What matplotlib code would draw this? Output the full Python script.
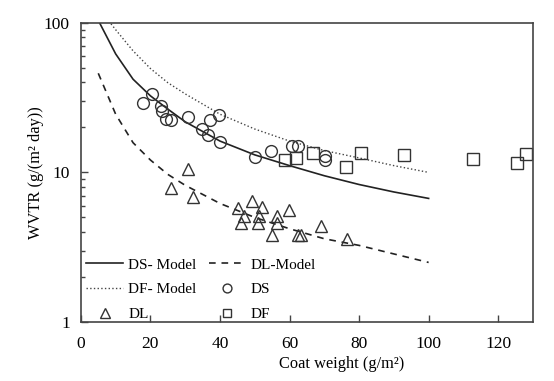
import matplotlib
matplotlib.use("Agg")
import matplotlib.pyplot as plt
from matplotlib.ticker import LogLocator, NullFormatter, FixedLocator

# Model curves
model_x = [5, 10, 15, 20, 25, 30, 40, 50, 60, 70, 80, 90, 100]
ds_model = [104, 62, 42, 32.5, 26.5, 21.8, 16.2, 13.1, 11.1, 9.5, 8.3, 7.4, 6.7]
dl_model = [46, 24.5, 15.8, 12.1, 9.7, 8.2, 6.2, 5.0, 4.2, 3.6, 3.25, 2.85, 2.5]
dfm_x = [8, 10, 15, 20, 25, 30, 40, 50, 60, 70, 80, 90, 100]
df_model = [103, 90, 65, 49.5, 39.8, 33.5, 24.5, 19.5, 16.2, 14.0, 12.5, 11.1, 10.0]

# Measured data
ds_x = [17.9, 20.5, 22.9, 23.3, 24.5, 25.9, 30.7, 34.7, 36.6, 37.0, 39.6, 40.1,
        50.0, 54.6, 60.7, 62.3, 70.1, 70.1]
ds_y = [28.9, 33.6, 27.8, 25.6, 22.6, 22.4, 23.5, 19.4, 17.8, 22.4, 24.3, 15.9,
        12.6, 13.8, 15.1, 15.1, 12.9, 12.1]
df_x = [58.7, 61.8, 66.8, 76.3, 80.6, 93.0, 112.9, 125.3, 128.0]
df_y = [12.1, 12.4, 13.5, 10.9, 13.4, 13.1, 12.3, 11.6, 13.3]
dl_x = [30.7, 25.8, 32.2, 45.1, 49.1, 52.1, 46.8, 46.0, 51.1, 51.0, 56.3, 56.5,
        54.9, 59.9, 62.3, 63.2, 69.0, 76.6]
dl_y = [10.5, 7.9, 6.9, 5.8, 6.4, 5.9, 5.1, 4.56, 5.1, 4.6, 5.1, 4.6,
        3.82, 5.6, 3.79, 3.79, 4.35, 3.58]

plt.rcParams['font.family'] = ['Liberation Serif', 'DejaVu Serif']

fig = plt.figure(figsize=(5.54, 3.81), dpi=100)
ax = fig.add_axes([0.146, 0.155, 0.816, 0.785])

mk = dict(linestyle='none', markerfacecolor='none', markeredgecolor='#333333',
          markeredgewidth=1.0)
l1, = ax.plot(model_x, ds_model, '-', color='#222222', lw=1.2, label='DS- Model')
l2, = ax.plot(model_x, dl_model, '--', color='#222222', lw=1.2, label='DL-Model',
              dashes=(4, 3.5))
l3, = ax.plot(dfm_x, df_model, ':', color='#444444', lw=1.0, label='DF- Model')
p1, = ax.plot(ds_x, ds_y, marker='o', markersize=8.5, label='DS', **mk)
p2, = ax.plot(dl_x, dl_y, marker='^', markersize=9, label='DL', **mk)
p3, = ax.plot(df_x, df_y, marker='s', markersize=8, label='DF', **mk)

ax.set_yscale('log')
ax.set_xlim(0, 130)
ax.set_ylim(1, 100)
ax.xaxis.set_major_locator(FixedLocator([0, 20, 40, 60, 80, 100, 120]))
ax.yaxis.set_major_locator(FixedLocator([1, 10, 100]))
ax.yaxis.set_major_formatter(matplotlib.ticker.FuncFormatter(lambda v, p: f"{v:g}"))
ax.yaxis.set_minor_locator(LogLocator(base=10, subs=range(2, 10)))
ax.yaxis.set_minor_formatter(NullFormatter())
ax.tick_params(axis='both', which='major', direction='in', length=5, width=1,
               labelsize=12.5, color='#444444', pad=8)
ax.tick_params(axis='y', which='minor', direction='in', length=3, width=1,
               color='#444444')
ax.tick_params(axis='x', pad=10)
for s in ax.spines.values():
    s.set_color('#444444')
    s.set_linewidth(1.2)

ax.set_xlabel('Coat weight (g/m²)', fontsize=11.8)
ax.xaxis.set_label_coords(0.577, -0.115)
ax.set_ylabel('WVTR (g/(m² day))', fontsize=11.8)
ax.yaxis.set_label_coords(-0.082, 0.5)

leg = ax.legend(handles=[l1, l3, p2, l2, p1, p3], ncol=2, loc='lower left',
                bbox_to_anchor=(0.01, 0.0),
                frameon=False, fontsize=11, handlelength=2.4, handletextpad=0.35,
                columnspacing=0.8, labelspacing=0.72, borderaxespad=0.0,
                borderpad=0.05, markerscale=0.75)

fig.savefig('out.png', dpi=100)
